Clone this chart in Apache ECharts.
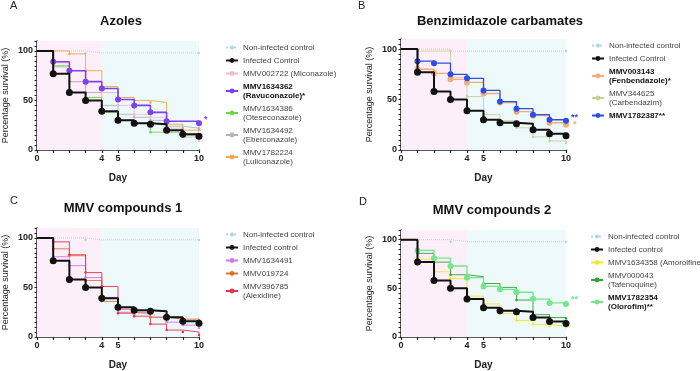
<!DOCTYPE html>
<html>
<head>
<meta charset="utf-8">
<script src="https://cdn.jsdelivr.net/npm/echarts@6/dist/echarts.min.js"></script>
<style>
  html, body { margin: 0; padding: 0; background: #fff; }
  #chart { width: 700px; height: 371px; }
</style>
</head>
<body>
<div id="chart"></div>
<script>
// days of follow-up
var days = [0, 1, 2, 3, 4, 5, 6, 7, 8, 9, 10];
var xTickLabels = [0, 4, 5, 10];
var yTickLabels = [0, 50, 100];

// shared controls
var nonInfected = [100, 100, 100, 98, 98, 98, 98, 98, 98, 98, 98];
var infectedControl = [100, 77, 58, 50, 39, 30, 27, 26, 20, 16, 14];

// A - azoles
var miconazole = [100, 88, 69, 58, 58, 45, 36, 33, 22, 13, 9];
var ravuconazole = [100, 89, 80, 69, 62, 51, 45, 38, 29, 29, 27];
var oteseconazole = [100, 85, 58, 53, 38, 30, 27, 18, 18, 15, 13];
var eberconazole = [100, 84, 69, 58, 45, 36, 33, 30, 24, 22, 22];
var luliconazole = [100, 100, 97, 80, 64, 53, 50, 48, 26, 20, 20];

// B - benzimidazole carbamates
var fenbendazole = [100, 80, 76, 70, 67, 56, 47, 38, 34, 27, 25];
var carbendazim = [100, 98, 98, 72, 53, 35, 29, 22, 13, 9, 7];
var mmv1782387 = [100, 88, 86, 75, 71, 59, 48, 41, 35, 30, 29];

// C - MMV compounds 1
var mmv1634491 = [100, 81, 72, 60, 40, 25, 23, 20, 15, 12, 9];
var mmv019724 = [100, 89, 82, 57, 36, 28, 25, 20, 18, 18, 17];
var alexidine = [100, 96, 83, 65, 51, 24, 21, 13, 7, 5, 2];

// D - MMV compounds 2
var amorolfine = [100, 80, 67, 60, 42, 34, 24, 17, 13, 11, 10];
var tafenoquine = [100, 86, 77, 64, 62, 55, 51, 38, 23, 20, 19];
var olorofim = [100, 89, 81, 73, 61, 52, 49, 46, 39, 35, 34];

var FONT = 'Liberation Sans, Arial, sans-serif';

// markers only where the curve drops, plus the censored end point
function km(values) {
    return values.map(function (v, i) {
        var item = { value: [days[i], v] };
        var last = i === values.length - 1;
        if (i === 0 || (!last && v === values[i - 1])) {
            item.symbol = 'none';
        }
        return item;
    });
}

function line(name, values, panel, color, opt) {
    opt = opt || {};
    var s = {
        name: name,
        type: 'line',
        step: 'end',
        xAxisIndex: panel,
        yAxisIndex: panel,
        data: km(values),
        showSymbol: true,
        showAllSymbol: true,
        symbol: opt.symbol || 'circle',
        symbolSize: opt.size || 2.5,
        color: color,
        lineStyle: { width: opt.width || 0.9, color: color, type: opt.type || 'solid' },
        itemStyle: { color: color },
        z: opt.z || 2,
        silent: true,
        animation: false
    };
    if (opt.star) {
        s.endLabel = {
            show: true, formatter: opt.star, color: color,
            fontSize: 9, fontWeight: 'bold', offset: opt.starOffset || [-2, -3]
        };
    }
    if (opt.shade) {
        s.markArea = {
            silent: true,
            data: [
                [{ xAxis: 0, itemStyle: { color: '#fdeffa' } }, { xAxis: 4 }],
                [{ xAxis: 4, itemStyle: { color: '#eef9fc' } }, { xAxis: 10 }]
            ]
        };
    }
    return s;
}

function nonInf(panel) {
    return line('Non-infected control', nonInfected, panel, '#a9d8e8',
        { type: 'dotted', width: 1, size: 3, symbol: 'diamond', shade: true, z: 1 });
}
function infected(name, panel) {
    return line(name, infectedControl, panel, '#111', { width: 2, size: 7, z: 5 });
}

var grids = [
    { left: 34, right: 501, top: 41, bottom: 221 },
    { left: 401, right: 134, top: 39, bottom: 221 },
    { left: 35, right: 501, top: 228, bottom: 32 },
    { left: 401, right: 134, top: 230, bottom: 31 }
];

var xAxes = grids.map(function (g, i) {
    return {
        gridIndex: i, type: 'value', min: 0, max: 10, interval: 1,
        name: 'Day', nameLocation: 'middle', nameGap: 23,
        nameTextStyle: { fontSize: 10, fontWeight: 'bold', color: '#222', fontFamily: FONT },
        axisLine: { lineStyle: { color: '#222', width: 1.5 } },
        axisTick: { length: 3, lineStyle: { color: '#222', width: 1.2 } },
        axisLabel: {
            fontSize: 9, fontWeight: 'bold', color: '#222', margin: 4, fontFamily: FONT,
            formatter: function (v) { return xTickLabels.indexOf(v) >= 0 ? v : ''; }
        },
        splitLine: { show: false }
    };
});

var yAxes = grids.map(function (g, i) {
    return {
        gridIndex: i, type: 'value', min: 0, max: 110, interval: 5,
        name: 'Percentage survival (%)', nameLocation: 'middle', nameGap: 27,
        nameTextStyle: { fontSize: 9, color: '#222', fontFamily: FONT },
        axisLine: { show: true, lineStyle: { color: '#222', width: 1.5 } },
        axisTick: { length: 2.5, lineStyle: { color: '#222', width: 1 } },
        axisLabel: {
            fontSize: 9, fontWeight: 'bold', color: '#222', margin: 4, fontFamily: FONT,
            formatter: function (v) { return yTickLabels.indexOf(v) >= 0 ? v : ''; }
        },
        splitLine: { show: false }
    };
});

var series = [
    // A
    nonInf(0),
    line('MMV002722 (Miconazole)', miconazole, 0, '#f3b9d2'),
    line('MMV1634386\n(Oteseconazole)', oteseconazole, 0, '#6ad84a'),
    line('MMV1634492\n(Eberconazole)', eberconazole, 0, '#b4b4b4'),
    line('MMV1782224\n(Luliconazole)', luliconazole, 0, '#f2a64a'),
    line('MMV1634362\n(Ravuconazole)*', ravuconazole, 0, '#7e42ec',
        { width: 1.6, size: 6, z: 4, star: '*', starOffset: [-3, -4] }),
    infected('Infected Control', 0),
    // B
    nonInf(1),
    line('MMV344625\n(Carbendazim)', carbendazim, 1, '#c9cf95'),
    line('MMV003143\n(Fenbendazole)*', fenbendazole, 1, '#f5ab78',
        { width: 1.3, size: 6, z: 3, star: '*', starOffset: [-1, 0] }),
    line('MMV1782387**', mmv1782387, 1, '#2a4ee6',
        { width: 1.3, size: 6, z: 4, star: '**', starOffset: [-3, -3] }),
    infected('Infected Control', 1),
    // C
    nonInf(2),
    line('MMV1634491', mmv1634491, 2, '#d476ee'),
    line('MMV019724', mmv019724, 2, '#e0703a'),
    line('MMV396785\n(Alexidine)', alexidine, 2, '#e8324c'),
    infected('Infected control', 2),
    // D
    nonInf(3),
    line('MMV1634358 (Amorolfine)', amorolfine, 3, '#f0e626'),
    line('MMV000043\n(Tafenoquine)', tafenoquine, 3, '#33a233'),
    line('MMV1782354\n(Olorofim)**', olorofim, 3, '#74e68c',
        { width: 1.3, size: 6, z: 4, star: '**', starOffset: [-3, -4] }),
    infected('Infected control', 3)
];

var boldNames = ['MMV1634362\n(Ravuconazole)*', 'MMV003143\n(Fenbendazole)*',
    'MMV1782387**', 'MMV1782354\n(Olorofim)**'];

function legend(left, top, names) {
    return {
        orient: 'vertical', left: left, top: top, padding: 0,
        itemWidth: 12, itemHeight: 6, itemGap: 4, selectedMode: false,
        data: names,
        formatter: function (name) {
            if (boldNames.indexOf(name) >= 0) {
                return name.split('\n').map(function (s) { return '{b|' + s + '}'; }).join('\n');
            }
            return name;
        },
        textStyle: {
            fontSize: 8, lineHeight: 9, color: '#444', fontFamily: FONT,
            rich: { b: { fontSize: 8, lineHeight: 9, fontWeight: 'bold', color: '#111', fontFamily: FONT } }
        }
    };
}

var option = {
    backgroundColor: '#fff',
    animation: false,
    textStyle: { fontFamily: FONT },
    title: [
        { text: 'A', left: 10, top: 6, textVerticalAlign: 'middle', padding: 0, textStyle: { fontSize: 11, fontWeight: 'normal', color: '#222' } },
        { text: 'B', left: 358, top: 6, textVerticalAlign: 'middle', padding: 0, textStyle: { fontSize: 11, fontWeight: 'normal', color: '#222' } },
        { text: 'C', left: 10, top: 201, textVerticalAlign: 'middle', padding: 0, textStyle: { fontSize: 11, fontWeight: 'normal', color: '#222' } },
        { text: 'D', left: 359, top: 202, textVerticalAlign: 'middle', padding: 0, textStyle: { fontSize: 11, fontWeight: 'normal', color: '#222' } },
        { text: 'Azoles', left: 121, top: 21, textAlign: 'center', textVerticalAlign: 'middle', padding: 0, textStyle: { fontSize: 13, fontWeight: 'bold', color: '#111' } },
        { text: 'Benzimidazole carbamates', left: 500, top: 21, textAlign: 'center', textVerticalAlign: 'middle', padding: 0, textStyle: { fontSize: 13, fontWeight: 'bold', color: '#111' } },
        { text: 'MMV compounds 1', left: 123, top: 208, textAlign: 'center', textVerticalAlign: 'middle', padding: 0, textStyle: { fontSize: 13, fontWeight: 'bold', color: '#111' } },
        { text: 'MMV compounds 2', left: 492, top: 210, textAlign: 'center', textVerticalAlign: 'middle', padding: 0, textStyle: { fontSize: 13, fontWeight: 'bold', color: '#111' } }
    ],
    grid: grids,
    xAxis: xAxes,
    yAxis: yAxes,
    legend: [
        legend(225, 43, ['Non-infected control', 'Infected Control', 'MMV002722 (Miconazole)',
            'MMV1634362\n(Ravuconazole)*', 'MMV1634386\n(Oteseconazole)', 'MMV1634492\n(Eberconazole)',
            'MMV1782224\n(Luliconazole)']),
        legend(591, 41, ['Non-infected control', 'Infected Control', 'MMV003143\n(Fenbendazole)*',
            'MMV344625\n(Carbendazim)', 'MMV1782387**']),
        legend(225, 230, ['Non-infected control', 'Infected control', 'MMV1634491', 'MMV019724',
            'MMV396785\n(Alexidine)']),
        legend(590, 232, ['Non-infected control', 'Infected control', 'MMV1634358 (Amorolfine)',
            'MMV000043\n(Tafenoquine)', 'MMV1782354\n(Olorofim)**'])
    ],
    series: series
};

var chart = echarts.init(document.getElementById('chart'));
chart.setOption(option);
window.addEventListener('resize', function () { chart.resize(); });
</script>
</body>
</html>
